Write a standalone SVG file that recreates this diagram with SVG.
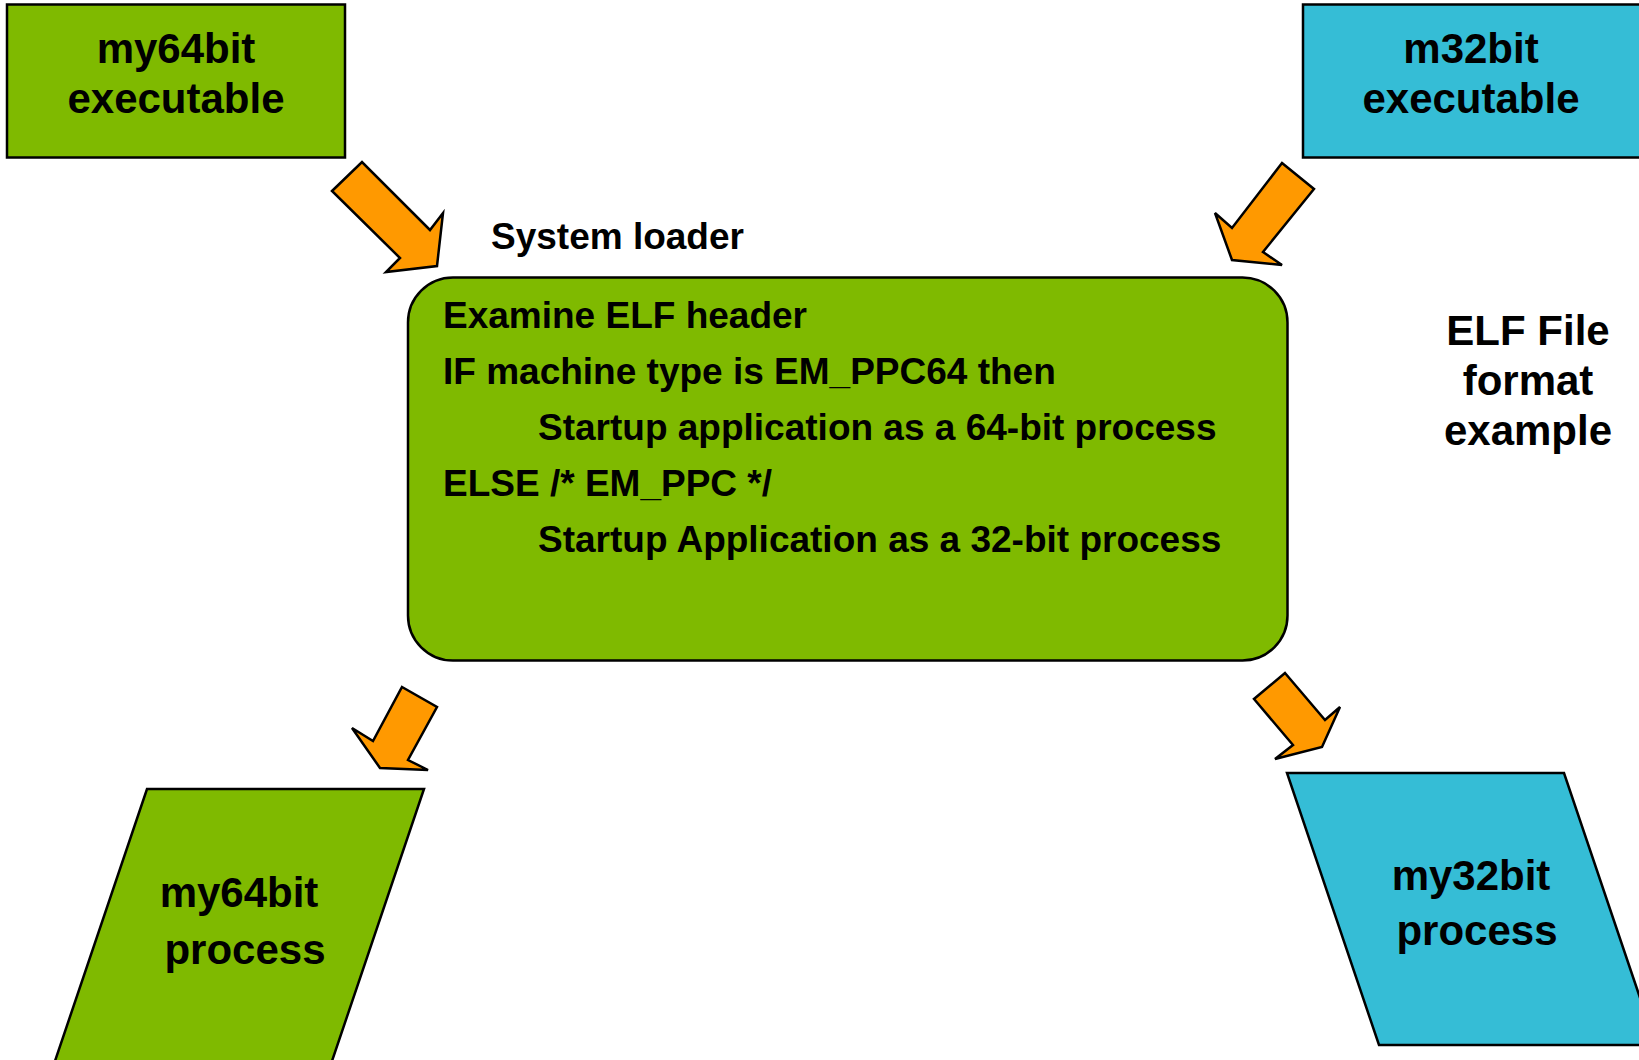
<svg xmlns="http://www.w3.org/2000/svg" width="1639" height="1060" viewBox="0 0 1639 1060">
  <style>
    .box { stroke: #000; stroke-width: 2.5; }
    .g { fill: #7FBA00; }
    .c { fill: #35BDD6; }
    .arrow { fill: #FF9900; stroke: #000; stroke-width: 2.5; stroke-linejoin: miter; }
    text { font-family: "Liberation Sans", Arial, sans-serif; font-weight: bold; fill: #000; }
    .big { font-size: 42px; text-anchor: middle; }
    .code { font-size: 37px; }
  </style>
  <rect width="1639" height="1060" fill="#fff"/>

  <!-- source executables -->
  <g id="exe64">
    <rect class="box g" x="7" y="4.5" width="338" height="153"/>
    <text class="big" x="176" y="63">my64bit</text>
    <text class="big" x="176" y="113">executable</text>
  </g>
  <g id="exe32">
    <rect class="box c" x="1303" y="4.5" width="345" height="153"/>
    <text class="big" x="1471" y="63">m32bit</text>
    <text class="big" x="1471" y="113">executable</text>
  </g>

  <!-- loader -->
  <g id="loader-label">
    <text class="code" x="491" y="249">System loader</text>
  </g>
  <g id="loader">
    <rect class="box g" x="408" y="277.5" width="879.5" height="383" rx="45" ry="45"/>
    <text class="code" x="443" y="328">Examine ELF header</text>
    <text class="code" x="443" y="384">IF machine type is EM_PPC64 then</text>
    <text class="code" x="538" y="440">Startup application as a 64-bit process</text>
    <text class="code" x="443" y="496">ELSE /* EM_PPC */</text>
    <text class="code" x="538" y="552">Startup Application as a 32-bit process</text>
  </g>

  <g id="title">
    <text class="big" x="1528" y="345">ELF File</text>
    <text class="big" x="1528" y="395">format</text>
    <text class="big" x="1528" y="445">example</text>
  </g>

  <!-- resulting processes -->
  <g id="proc64">
    <polygon class="box g" points="147,789 424,789 331,1064 54,1064"/>
    <text class="big" x="239" y="907">my64bit</text>
    <text class="big" x="245" y="964">process</text>
  </g>
  <g id="proc32">
    <polygon class="box c" points="1287,773 1564,773 1656,1045 1379,1045"/>
    <text class="big" x="1471" y="890">my32bit</text>
    <text class="big" x="1477" y="945">process</text>
  </g>

  <!-- block arrows -->
  <g id="connectors">
    <polygon class="arrow" points="332,191 362,162 430,230 443,213 437,266 386,272 400,258"/>
    <polygon class="arrow" points="1282,163 1314,189 1263,252 1282,265 1232,260 1215,213 1232,228"/>
    <polygon class="arrow" points="402,687 437,707 408,760 428,770 380,768 352,728 373,741"/>
    <polygon class="arrow" points="1285,673 1325,720 1340,707 1322,747 1275,759 1293,745 1254,699"/>
  </g>
</svg>
